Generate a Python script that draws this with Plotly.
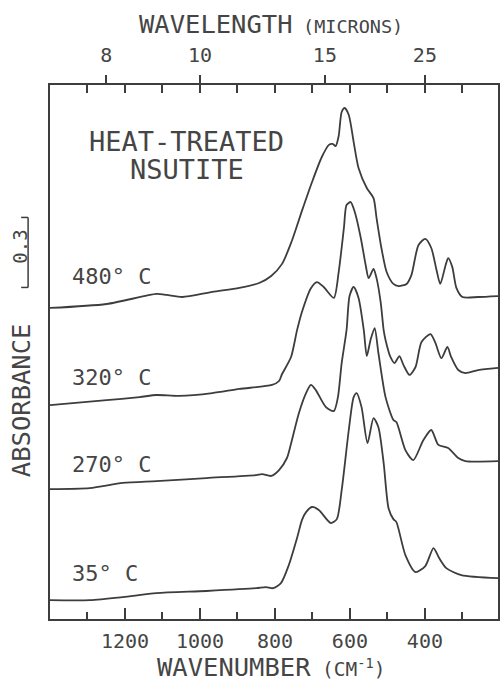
import plotly.graph_objects as go

# Infrared absorbance spectra of nsutite after heat treatment.
# Wavenumbers in cm-1; absorbance measured from each spectrum's value at 1400 cm-1.
WN_480 = [1400, 1249, 1116, 1089, 1047, 967, 895, 842, 810, 781, 755, 728, 701, 675,
          656, 646, 638, 630, 622, 614, 603, 590, 577, 555, 537, 529, 516, 502, 484,
          470, 449, 436, 417, 399, 383, 369, 359, 346, 338, 327, 316, 300, 258, 205]
ABS_480 = [0.000, 0.017, 0.060, 0.056, 0.047, 0.069, 0.086, 0.107, 0.137, 0.189, 0.287,
           0.416, 0.540, 0.647, 0.699, 0.703, 0.694, 0.737, 0.840, 0.857, 0.827, 0.711,
           0.600, 0.514, 0.471, 0.386, 0.257, 0.154, 0.103, 0.094, 0.103, 0.141, 0.270,
           0.296, 0.257, 0.163, 0.103, 0.176, 0.214, 0.176, 0.086, 0.047, 0.047, 0.051]

WN_320 = [1400, 1249, 1161, 1116, 1055, 967, 895, 808, 789, 781, 757, 741, 728, 704,
          688, 670, 643, 630, 616, 609, 598, 587, 571, 558, 550, 537, 529, 518, 510,
          505, 492, 481, 468, 457, 441, 425, 409, 385, 372, 356, 340, 330, 311, 292,
          258, 205]
ABS_320 = [0.000, 0.021, 0.034, 0.043, 0.039, 0.051, 0.069, 0.086, 0.103, 0.133, 0.206,
           0.321, 0.399, 0.501, 0.527, 0.506, 0.459, 0.570, 0.759, 0.857, 0.870, 0.827,
           0.716, 0.600, 0.544, 0.583, 0.544, 0.441, 0.321, 0.279, 0.206, 0.180, 0.210,
           0.171, 0.129, 0.163, 0.270, 0.304, 0.266, 0.201, 0.249, 0.206, 0.150, 0.137,
           0.150, 0.159]

WN_270 = [1400, 1294, 1206, 1116, 983, 850, 834, 810, 789, 768, 760, 736, 717, 704,
          691, 664, 643, 632, 622, 609, 601, 590, 577, 563, 555, 545, 534, 524, 505,
          484, 476, 452, 431, 404, 383, 364, 338, 311, 292, 205]
ABS_270 = [0.000, 0.004, 0.026, 0.034, 0.047, 0.060, 0.064, 0.056, 0.081, 0.133, 0.176,
           0.326, 0.411, 0.446, 0.424, 0.351, 0.334, 0.394, 0.540, 0.681, 0.827, 0.866,
           0.819, 0.681, 0.570, 0.639, 0.690, 0.583, 0.394, 0.296, 0.287, 0.167, 0.124,
           0.210, 0.253, 0.189, 0.176, 0.133, 0.120, 0.120]

WN_35 = [1400, 1294, 1206, 1116, 983, 850, 824, 805, 784, 763, 741, 728, 717, 701,
         683, 651, 635, 622, 603, 590, 582, 569, 553, 537, 524, 510, 497, 484, 476,
         452, 425, 399, 377, 362, 343, 303, 205]
ABS_35 = [0.000, 0.000, 0.013, 0.030, 0.039, 0.051, 0.056, 0.051, 0.073, 0.150, 0.266,
          0.343, 0.377, 0.399, 0.386, 0.330, 0.347, 0.471, 0.729, 0.870, 0.887, 0.827,
          0.673, 0.780, 0.741, 0.587, 0.394, 0.347, 0.334, 0.193, 0.120, 0.146, 0.223,
          0.180, 0.137, 0.107, 0.094]

TEMPERATURES = ["480° C", "320° C", "270° C", "35° C"]
OFFSETS = [1.333, 0.917, 0.557, 0.081]        # vertical stacking of the spectra
LABEL_RISE = [0.137, 0.120, 0.107, 0.112]     # label height above each spectrum start

WAVENUMBER_TICKS = [1200, 1000, 800, 600, 400]
WAVENUMBER_MINOR = [1300, 1100, 900, 700, 500, 300]
WAVELENGTH_TICKS = [8, 10, 15, 25]            # microns
SCALE_BAR = 0.3                               # absorbance units

X_RANGE = [1400, 205]
Y_RANGE = [0, 2.2886]

FONT = "DejaVu Sans Mono"
INK = "#3d3d3d"
TEXT = "#454545"

spectra = [(WN_480, ABS_480), (WN_320, ABS_320), (WN_270, ABS_270), (WN_35, ABS_35)]

fig = go.Figure()
for (wn, ab), off in zip(spectra, OFFSETS):
    fig.add_trace(go.Scatter(
        x=wn, y=[off + a for a in ab], mode="lines",
        line=dict(color=INK, width=1.8, shape="spline", smoothing=0.7),
        hoverinfo="skip", showlegend=False,
    ))

# empty carriers so the two top axes (wavelength labels, inner ticks) are drawn
for ax in ("x2", "x3"):
    fig.add_trace(go.Scatter(x=X_RANGE, y=[None, None], xaxis=ax, mode="lines",
                             hoverinfo="skip", showlegend=False))

# temperature labels, left of each spectrum
for name, off, rise in zip(TEMPERATURES, OFFSETS, LABEL_RISE):
    fig.add_annotation(x=1346, y=off + rise, xref="x", yref="y", text=name,
                       xanchor="left", yanchor="middle", showarrow=False,
                       font=dict(family=FONT, size=22, color=TEXT))

def px_x(px):
    return (px - 50) / 450.0

def px_y(py):
    return (619 - py) / 534.0

def note(text, x, y, size, xanchor="center", angle=0):
    fig.add_annotation(x=px_x(x), y=px_y(y), xref="paper", yref="paper", text=text,
                       xanchor=xanchor, yanchor="middle", showarrow=False,
                       textangle=angle, font=dict(family=FONT, size=size, color=TEXT))

note("HEAT-TREATED", 187, 141, 27)
note("NSUTITE", 187.5, 170, 27)
note("WAVELENGTH", 216.5, 24, 25.5)
note("(MICRONS)", 302, 27, 18.5, xanchor="left")
note("WAVENUMBER", 235, 667, 25.5)
note("(CM<sup>-1</sup>)", 321, 668, 19.5, xanchor="left")
note("ABSORBANCE", 21, 400, 25.5, angle=-90)

# absorbance scale bar
bar_lo, bar_hi = 1.421, 1.421 + SCALE_BAR
bar_x, end_x = px_x(28), px_x(21)
line_style = dict(color=INK, width=1.5)
fig.add_shape(type="line", xref="paper", yref="y", x0=bar_x, x1=bar_x,
              y0=bar_lo, y1=bar_hi, line=line_style)
for yv in (bar_lo, bar_hi):
    fig.add_shape(type="line", xref="paper", yref="y", x0=end_x, x1=bar_x,
                  y0=yv, y1=yv, line=line_style)
fig.add_annotation(x=px_x(19), y=(bar_lo + bar_hi) / 2 + 0.025, xref="paper", yref="y",
                   text=f"{SCALE_BAR:.1f}", textangle=-90, showarrow=False,
                   xanchor="center", yanchor="middle",
                   font=dict(family=FONT, size=19, color=TEXT))

axis_common = dict(range=X_RANGE, showgrid=False, zeroline=False,
                   linecolor=INK, linewidth=1.5, tickcolor=INK, tickwidth=1.5)

fig.update_layout(
    width=501, height=681,
    margin=dict(l=50, r=1, t=85, b=62),
    paper_bgcolor="white", plot_bgcolor="white",
    xaxis=dict(**axis_common, showline=True, mirror=True,
               ticks="inside", ticklen=11, tickvals=WAVENUMBER_TICKS,
               ticklabelstandoff=3,
               tickfont=dict(family=FONT, size=20, color=TEXT),
               minor=dict(ticks="inside", ticklen=7, tickwidth=1.5, tickcolor=INK,
                          tickvals=WAVENUMBER_MINOR, showgrid=False)),
    xaxis2=dict(**axis_common, overlaying="x", side="top", showline=False,
                ticks="outside", ticklen=9, ticklabelstandoff=5,
                tickvals=[1e4 / w for w in WAVELENGTH_TICKS],
                ticktext=[str(w) for w in WAVELENGTH_TICKS],
                tickfont=dict(family=FONT, size=20, color=TEXT)),
    xaxis3=dict(**axis_common, overlaying="x", side="top", showline=False,
                ticks="inside", ticklen=8, showticklabels=False,
                tickvals=list(range(1300, 299, -100))),
    yaxis=dict(range=Y_RANGE, showgrid=False, zeroline=False, showline=True,
               mirror=True, linecolor=INK, linewidth=1.5, ticks="",
               showticklabels=False),
)

fig.write_html("out.html")
